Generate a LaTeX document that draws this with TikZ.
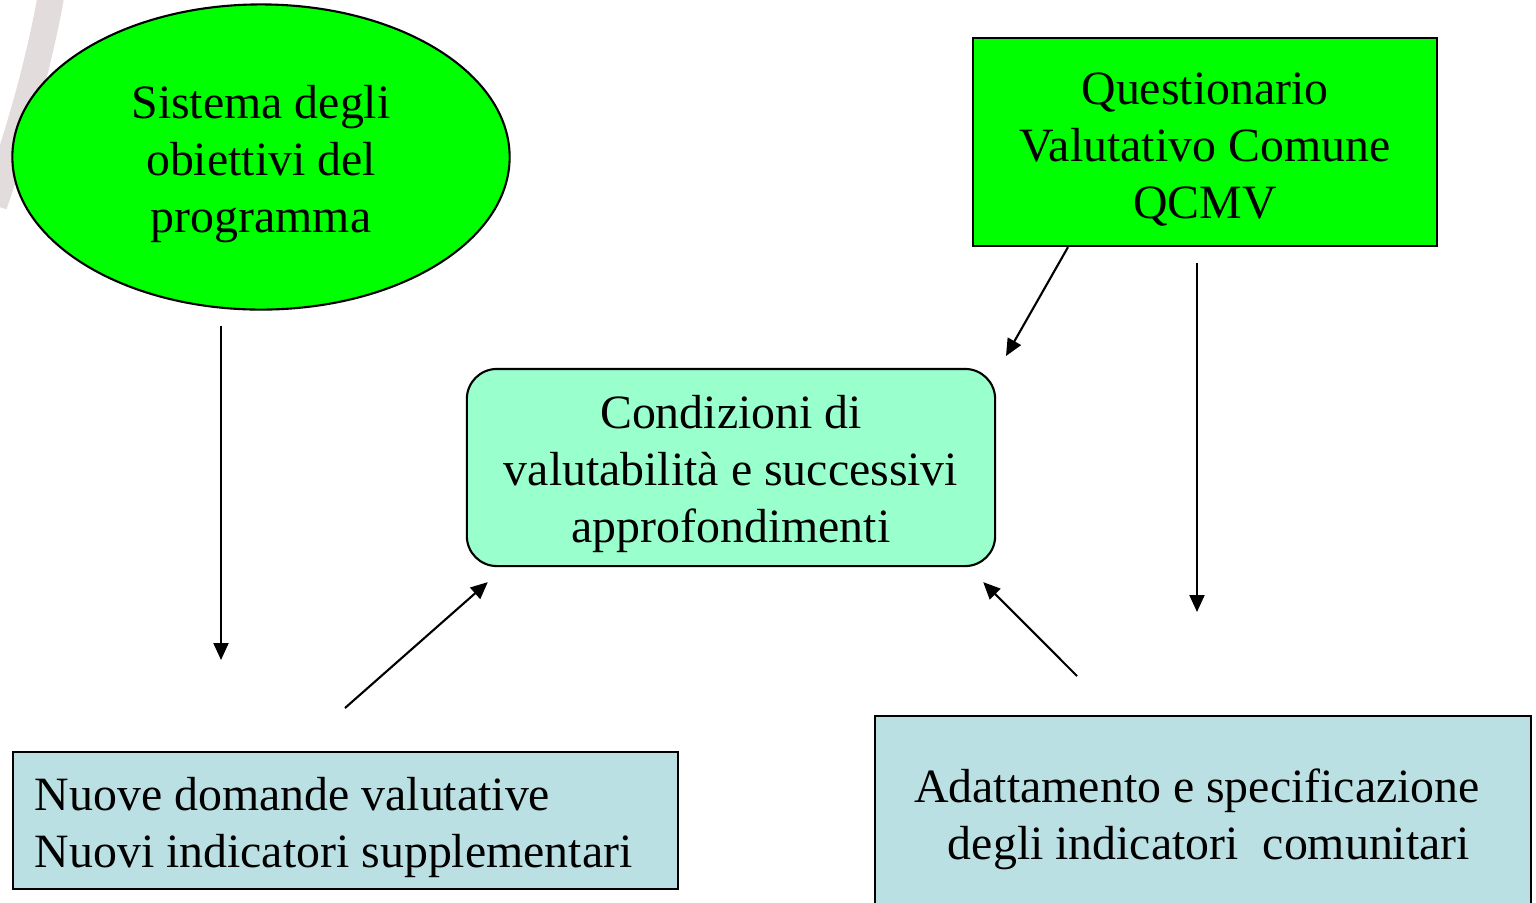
\documentclass[tikz,border=0pt]{standalone}
\usepackage{fontspec}
\setmainfont{Liberation Serif}
\usepackage{tikz}
\usetikzlibrary{arrows.meta,shapes.geometric,positioning}
\definecolor{brightgreen}{HTML}{00FF00}
\definecolor{mint}{HTML}{99FFCC}
\definecolor{paleblue}{HTML}{BBE0E3}
\definecolor{swoosh}{HTML}{E2DCDC}
\newcommand{\topgap}{\rule{0pt}{13.3pt}}
\tikzset{
    every node/.style={font=\fontsize{13.6}{16.2}\selectfont},
    goal node/.style={ellipse,draw,fill=brightgreen,line width=0.6pt,align=center,minimum width=4.97cm,minimum height=3.05cm},
    frame node/.style={rectangle,draw,fill=brightgreen,line width=0.6pt,align=center,minimum width=4.64cm,minimum height=2.08cm},
    core node/.style={rectangle,rounded corners=0.3cm,draw,fill=mint,line width=0.6pt,align=center,minimum width=5.28cm,minimum height=1.97cm},
    out node/.style={rectangle,draw,fill=paleblue,line width=0.6pt},
    link/.style={line width=0.6pt,-{Triangle[length=0.17cm,width=0.15cm]}}
}
\begin{document}
\begin{tikzpicture}[x=0.01cm,y=-0.01cm]

    \clip (0,0) rectangle (1536,902);
    \fill[white] (0,0) rectangle (1536,902);
    \draw[swoosh,line width=7.5pt] (52,-10) .. controls (40,60) and (20,130) .. (-6,205);

    \node[goal node] (sistema) at (261,157) {\topgap Sistema degli\\obiettivi del\\programma};
    \node[frame node] (qcmv) at (1205,142) {\topgap Questionario\\Valutativo Comune\\QCMV};
    \node[core node] (cond) at (731,467.5) {\topgap Condizioni di\\valutabilità e successivi\\approfondimenti};
    \node[out node,align=flush left,text width=6.21cm,inner xsep=0.22cm,minimum height=1.37cm] (nuove) at (345.5,820.5) {\topgap Nuove domande valutative\\Nuovi indicatori supplementari};
    \node[out node,align=center,minimum width=6.56cm,minimum height=2.06cm] (adatt) at (1203,819) {Adattamento e specificazione\kern0.12cm\\\ \ degli indicatori\ \ comunitari\kern0.12cm};

    \coordinate (sistema end) at (221,660);
    \coordinate (qcmv end) at (1197,612);
    \coordinate (nuove start) at (345,708);
    \coordinate (adatt start) at (1077,676);
    \coordinate (cond ne) at (1006,356);

    \draw[link] (sistema.south -| sistema end) ++(0,15) -- (sistema end);
    \draw[link] (qcmv.south -| 1068,0) -- (cond ne);
    \draw[link] (qcmv.south -| qcmv end) ++(0,16) -- (qcmv end);
    \draw[link] (nuove start) -- ([xshift=0.22cm,yshift=-0.15cm]cond.south west);
    \draw[link] (adatt start) -- ([xshift=-0.13cm,yshift=-0.15cm]cond.south east);

\end{tikzpicture}
\end{document}
